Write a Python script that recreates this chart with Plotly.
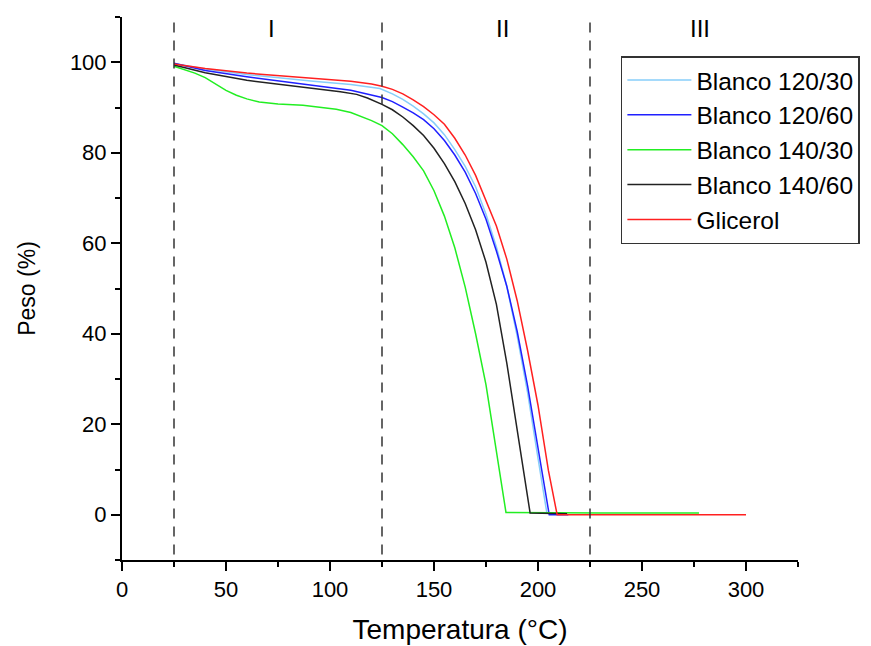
import plotly.graph_objects as go

# ---- data ----
x_b120_30 = [25, 40, 60, 80, 92, 110, 124, 130, 135, 140, 145, 150, 155, 160, 165, 170, 175, 180, 185, 190, 195, 200, 204.3, 213]
y_b120_30 = [99.7, 98.5, 97.3, 96.3, 95.8, 95.1, 94.2, 93.0, 91.8, 90.3, 88.6, 86.6, 84.0, 80.7, 77.0, 72.5, 66.4, 59.2, 50.5, 39.5, 27.0, 12.5, 0.3, 0.2]

x_b120_60 = [25, 40, 60, 80, 92, 110, 125, 130, 135, 140, 145, 150, 155, 160, 165, 170, 175, 180, 185, 190, 195, 200, 205.4, 214.6]
y_b120_60 = [99.8, 98.2, 96.8, 95.6, 94.9, 93.8, 92.2, 91.3, 90.1, 88.8, 87.3, 85.3, 82.7, 79.5, 75.7, 71.0, 65.3, 58.3, 50.5, 40.5, 28.5, 14.5, 0.0, 0.0]

x_b140_30 = [25, 30, 35, 40, 45, 50, 55, 60, 66, 75, 87, 95, 103, 110, 116, 120, 125, 130, 135, 140, 145, 150, 155, 160, 165, 170, 175, 180, 184.6, 230, 277.4]
y_b140_30 = [99.1, 98.4, 97.6, 96.6, 95.2, 93.8, 92.7, 91.9, 91.2, 90.8, 90.5, 90.1, 89.6, 88.9, 87.9, 87.1, 86.0, 84.2, 81.8, 79.1, 76.0, 71.6, 66.0, 59.0, 50.3, 40.0, 28.7, 14.5, 0.5, 0.4, 0.4]

x_b140_60 = [25, 40, 60, 80, 92, 105, 112.8, 118, 125, 130, 135, 140, 145, 150, 155, 160, 165, 170, 175, 180, 185, 190, 193, 196.2, 214]
y_b140_60 = [99.4, 97.7, 96.0, 94.9, 94.2, 93.5, 92.9, 92.1, 90.7, 89.5, 87.9, 86.0, 83.8, 81.0, 77.6, 73.6, 68.8, 63.0, 55.8, 46.5, 33.5, 18.5, 9.0, 0.4, 0.2]

x_glic = [25, 40, 60, 80, 92, 110, 120, 125, 130, 135, 140, 145, 150, 155, 160, 165, 170, 175, 180, 185, 190, 195, 200, 205, 209.2, 220, 250, 300]
y_glic = [99.6, 98.6, 97.6, 96.9, 96.4, 95.8, 95.2, 94.7, 94.0, 93.0, 91.7, 90.2, 88.4, 86.3, 83.2, 79.5, 75.0, 69.6, 63.8, 56.5, 47.3, 36.3, 24.2, 9.8, 0.0, 0.0, 0.0, 0.0]

series_names = ["Blanco 120/30", "Blanco 120/60", "Blanco 140/30", "Blanco 140/60", "Glicerol"]
series_colors = ["#87CEFA", "#2020FF", "#22EE22", "#222222", "#FF2020"]
series_x = [x_b120_30, x_b120_60, x_b140_30, x_b140_60, x_glic]
series_y = [y_b120_30, y_b120_60, y_b140_30, y_b140_60, y_glic]

region_bounds = [25, 125, 225]
region_labels = ["I", "II", "III"]
region_label_x = [72, 183, 278]

FONT = "Arial, Liberation Sans, sans-serif"

fig = go.Figure()
for name, color, xs, ys in zip(series_names, series_colors, series_x, series_y):
    fig.add_trace(go.Scatter(x=xs, y=ys, mode="lines", name=name,
                             line=dict(color=color, width=1.5)))

for xb in region_bounds:
    fig.add_shape(type="line", xref="x", yref="paper", x0=xb, x1=xb, y0=0.01, y1=1.0,
                  line=dict(color="#333333", width=1.5, dash="10px,8px"))

for lab, lx in zip(region_labels, region_label_x):
    fig.add_annotation(x=lx, y=107.5, xref="x", yref="y", text=lab, showarrow=False,
                       font=dict(family=FONT, size=24, color="black"))

fig.update_layout(
    width=871, height=646,
    margin=dict(l=122, r=73, t=17, b=86, autoexpand=False),
    plot_bgcolor="white", paper_bgcolor="white",
    font=dict(family=FONT, color="black"),
    showlegend=True,
    legend=dict(x=0.738, y=0.928, xanchor="left", yanchor="top",
                bgcolor="white", bordercolor="#333333", borderwidth=1.5,
                font=dict(family=FONT, size=24.5, color="black"),
                itemwidth=64, tracegroupgap=0),
)

fig.update_xaxes(range=[0, 325], tickvals=[0, 50, 100, 150, 200, 250, 300],
                 showline=True, linecolor="black", linewidth=2, mirror=False,
                 ticks="outside", ticklen=9, tickwidth=2, tickcolor="black",
                 minor=dict(ticks="outside", ticklen=5, tickwidth=2, tickcolor="black",
                            tickvals=[25, 75, 125, 175, 225, 275, 325]),
                 showgrid=False, zeroline=False,
                 tickfont=dict(family=FONT, size=22, color="black"),
                 title=dict(text="Temperatura (°C)", font=dict(family=FONT, size=28, color="black"),
                            standoff=18))

fig.update_yaxes(range=[-10, 110], tickvals=[0, 20, 40, 60, 80, 100],
                 showline=True, linecolor="black", linewidth=2, mirror=False,
                 ticks="outside", ticklen=9, tickwidth=2, tickcolor="black",
                 minor=dict(ticks="outside", ticklen=5, tickwidth=2, tickcolor="black",
                            tickvals=[-10, 10, 30, 50, 70, 90, 110]),
                 showgrid=False, zeroline=False,
                 tickfont=dict(family=FONT, size=22, color="black"),
                 title=dict(text="Peso (%)", font=dict(family=FONT, size=23, color="black"),
                            standoff=28))

fig.write_html("out.html")
